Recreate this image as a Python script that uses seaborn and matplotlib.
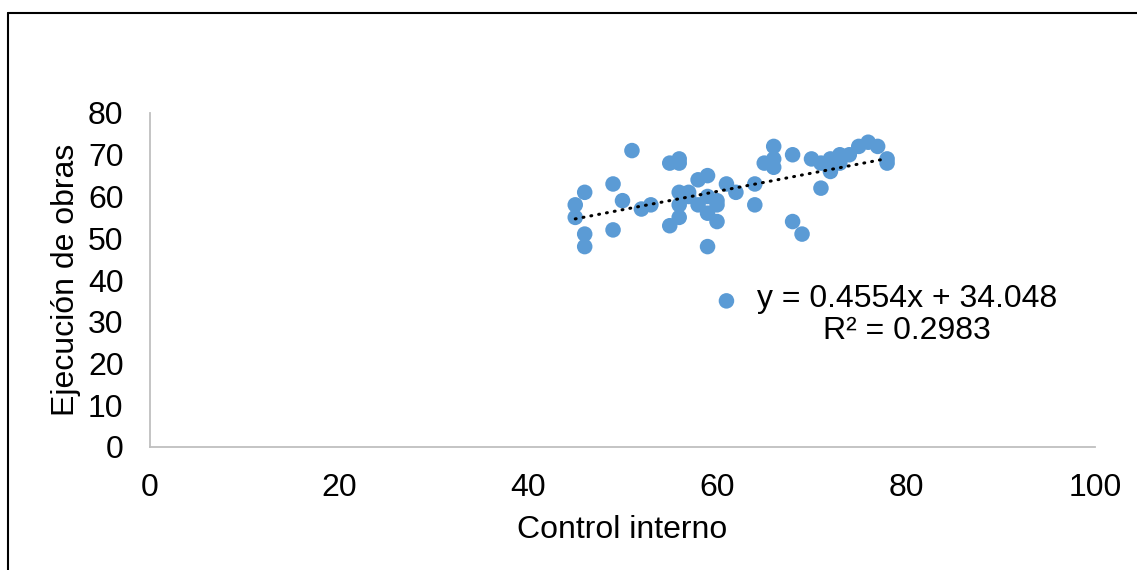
import matplotlib
matplotlib.use("Agg")
import matplotlib.pyplot as plt
import seaborn as sns
import pandas as pd
from matplotlib.lines import Line2D

control_interno = [45, 45, 46, 46, 46, 49, 49, 50, 51, 52, 53, 55, 55, 56, 56, 56, 56, 56,
                   57, 57, 58, 58, 59, 59, 59, 59, 60, 60, 60, 61, 61, 62, 64, 64, 65, 66,
                   66, 66, 68, 68, 69, 70, 71, 71, 72, 72, 73, 73, 74, 75, 76, 77, 78, 78]
ejecucion_obras = [58, 55, 61, 51, 48, 63, 52, 59, 71, 57, 58, 68, 53, 69, 68, 61, 55, 58,
                   61, 60, 64, 58, 65, 60, 56, 48, 59, 58, 54, 63, 35, 61, 63, 58, 68, 72,
                   69, 67, 70, 54, 51, 69, 68, 62, 69, 66, 70, 68, 70, 72, 73, 72, 69, 68]
equation_text = "y = 0.4554x + 34.048\nR² = 0.2983"
x_ticks = [0, 20, 40, 60, 80, 100]
y_ticks = [0, 10, 20, 30, 40, 50, 60, 70, 80]

df = pd.DataFrame({"Control interno": control_interno, "Ejecución de obras": ejecucion_obras})

sns.set_style("white")
plt.rcParams["font.family"] = ["Liberation Sans", "DejaVu Sans"]
plt.rcParams["text.color"] = "black"
plt.rcParams["axes.labelcolor"] = "black"

fig = plt.figure(figsize=(11.37, 5.70), dpi=100)
ax = fig.add_axes([150 / 1137, 1 - 447 / 570, (1095 - 150) / 1137, (447 - 113) / 570])

sns.scatterplot(data=df, x="Control interno", y="Ejecución de obras", ax=ax,
                color="#5B9BD5", s=125, edgecolor="none", zorder=2)
sns.regplot(data=df, x="Control interno", y="Ejecución de obras", ax=ax, scatter=False,
            ci=None, truncate=True,
            line_kws=dict(color="black", lw=2.2, linestyle=(0, (0.3, 2.3)),
                          dash_capstyle="round", zorder=3))

ax.set_xlim(0, 100)
ax.set_ylim(0, 80)
ax.set_xticks(x_ticks)
ax.set_yticks(y_ticks)
ax.tick_params(axis="both", labelsize=23, colors="#BFBFBF", labelcolor="black",
               length=7, width=1.3, direction="out")
ax.tick_params(axis="y", pad=12)
ax.tick_params(axis="x", pad=12)
for side in ["top", "right"]:
    ax.spines[side].set_visible(False)
for side in ["left", "bottom"]:
    ax.spines[side].set_color("#BFBFBF")
    ax.spines[side].set_linewidth(1.3)

ax.set_xlabel("Control interno", fontsize=23, labelpad=8, color="black")
ax.set_ylabel("Ejecución de obras", fontsize=23, labelpad=5, color="black")

ax.text((907 - 150) / 945, (447 - 315) / 334, equation_text, transform=ax.transAxes,
        fontsize=23, ha="center", va="center", multialignment="center",
        linespacing=1.1, color="black")

# chart border (top and left visible)
fig.add_artist(Line2D([8 / 1137, 8 / 1137], [0, 1 - 13 / 570], color="black", lw=1.5,
                      transform=fig.transFigure))
fig.add_artist(Line2D([8 / 1137, 1], [1 - 13 / 570, 1 - 13 / 570], color="black", lw=1.5,
                      transform=fig.transFigure))

fig.savefig("out.png", dpi=100)
